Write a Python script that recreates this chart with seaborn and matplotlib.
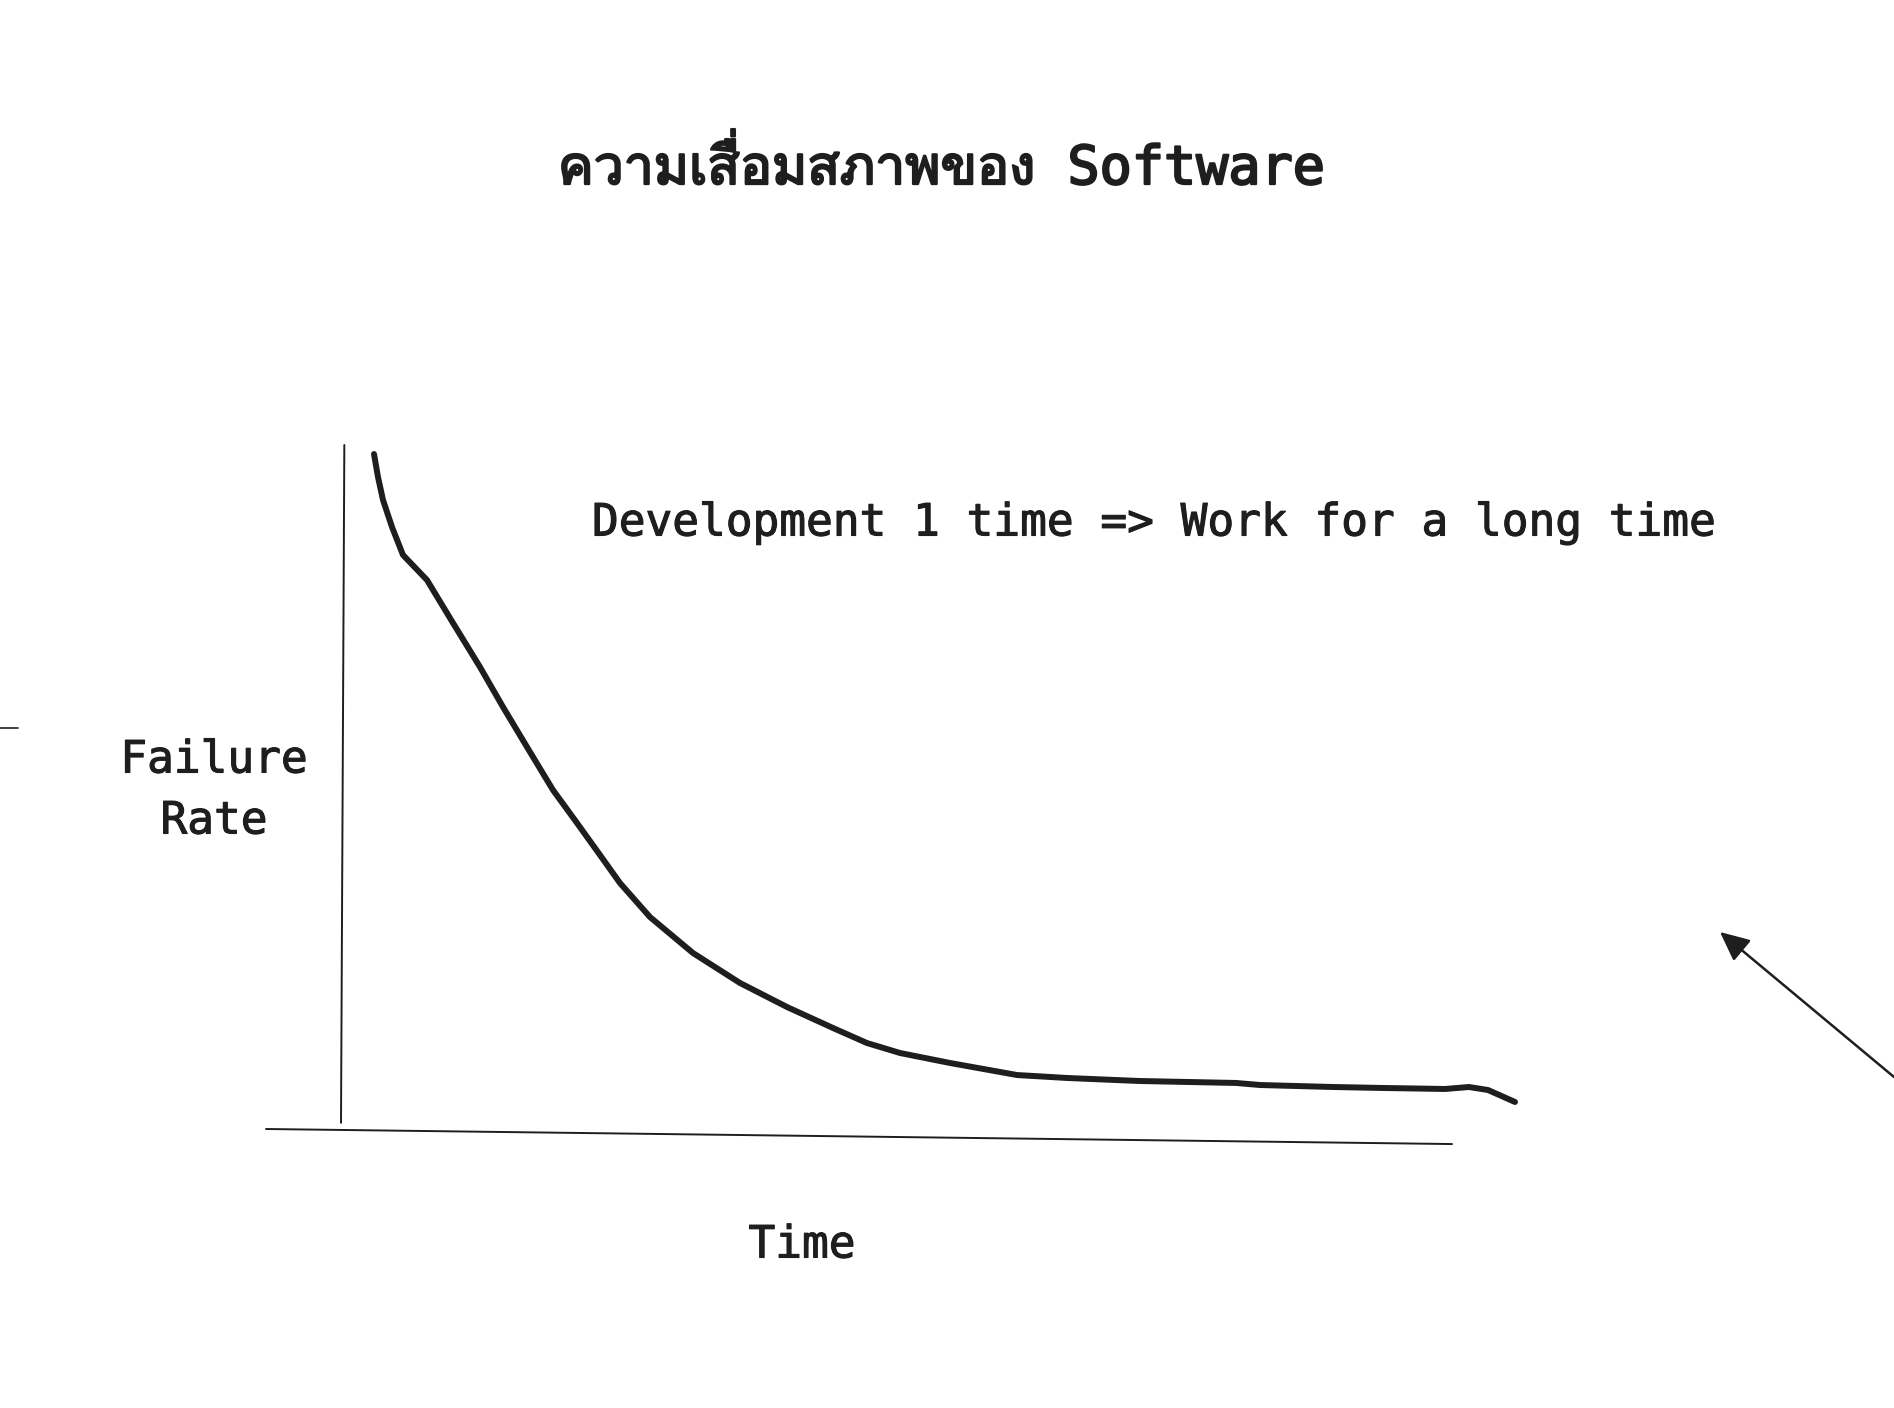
import matplotlib
matplotlib.use("Agg")
import matplotlib.pyplot as plt
import matplotlib.patheffects as pe
import seaborn as sns
import pandas as pd
from matplotlib import font_manager
from matplotlib.ft2font import FT2Font

# ---------------- data ----------------
time = [2.97, 3.33, 3.78, 4.59, 5.58, 7.74, 10.08, 12.51, 14.58, 16.74,
        19.08, 21.24, 23.31, 25.11, 27.81, 31.68, 35.91, 40.14, 44.28, 47.34,
        50.32, 54.82, 60.85, 65.35, 71.83, 80.56, 82.72, 89.29, 93.70, 99.37,
        101.53, 103.24, 105.67]
failure_rate = [98.68, 95.32, 91.96, 88.01, 83.92, 80.26, 73.98, 67.54, 61.70,
                55.85, 49.56, 44.74, 40.06, 35.96, 30.99, 25.73, 21.35, 17.84,
                14.77, 12.57, 11.11, 9.65, 7.89, 7.46, 7.02, 6.73, 6.43, 6.14,
                6.00, 5.85, 6.14, 5.70, 3.95]
title_text = "ความเสื่อมสภาพของ Software"
note_text = "Development 1 time => Work for a long time"
ylabel_lines = ["Failure", "Rate"]
xlabel_text = "Time"

INK = "#1e1e1e"


def find_font(ch):
    for f in font_manager.fontManager.ttflist:
        try:
            ft = FT2Font(f.fname)
            if ord(ch) in ft.get_charmap():
                return f.name
        except Exception:
            pass
    return None


sns.set_style("white")
thai = find_font("ค")
mono = ["DejaVu Sans Mono"]
title_family = mono + ([thai] if thai else []) + ["DejaVu Sans"]
plt.rcParams["font.family"] = mono

W, H = 1894, 1408
fig = plt.figure(figsize=(W / 100, H / 100), dpi=100)
fig.patch.set_facecolor("white")

# plot area
left, right, top, bottom = 341, 1452, 445, 1129
ax = fig.add_axes([left / W, 1 - bottom / H, (right - left) / W, (bottom - top) / H])
ax.set_xlim(0, 100)
ax.set_ylim(0, 100)
ax.set_axis_off()

df = pd.DataFrame({"Time": time, "Failure Rate": failure_rate})
sns.lineplot(data=df, x="Time", y="Failure Rate", sort=False, ax=ax,
             color=INK, linewidth=4.3, solid_capstyle="round",
             solid_joinstyle="round", clip_on=False)

# hand drawn axes
ax.plot([0.003, 0.0], [1.0, 0.009], transform=ax.transAxes, color=INK,
        lw=1.4, clip_on=False)
ax.plot([-0.0675, 1.0], [0.0, -0.022], transform=ax.transAxes, color=INK,
        lw=1.4, clip_on=False)

# stray tick on the left edge
fig.add_artist(plt.Line2D([0, 18 / W], [1 - 728 / H, 1 - 728 / H],
                          color=INK, lw=1.2))

# texts
thick_title = [pe.withStroke(linewidth=1.6, foreground=INK)]
thick_body = [pe.withStroke(linewidth=0.8, foreground=INK)]
fig.text(942 / W, 1 - 167 / H, title_text, ha="center", va="center",
         fontsize=38.5, color=INK, family=title_family, path_effects=thick_title)
fig.text(592 / W, 1 - 523 / H, note_text, ha="left", va="center",
         fontsize=32, color=INK, path_effects=thick_body)
fig.text(214 / W, 1 - 760 / H, ylabel_lines[0], ha="center", va="center",
         fontsize=32, color=INK, path_effects=thick_body)
fig.text(214 / W, 1 - 821 / H, ylabel_lines[1], ha="center", va="center",
         fontsize=32, color=INK, path_effects=thick_body)
fig.text(802 / W, 1 - 1245 / H, xlabel_text, ha="center", va="center",
         fontsize=32, color=INK, path_effects=thick_body)

# arrow at right
ax.annotate("", xy=(1720 / W, 1 - 932 / H), xycoords="figure fraction",
            xytext=(1.0, 1 - 1077 / H), textcoords="figure fraction",
            arrowprops=dict(arrowstyle="-|>,head_length=0.9,head_width=0.42",
                            mutation_scale=20, color=INK, lw=1.8,
                            shrinkA=0, shrinkB=0))

fig.savefig("out.png", dpi=100, facecolor="white")
